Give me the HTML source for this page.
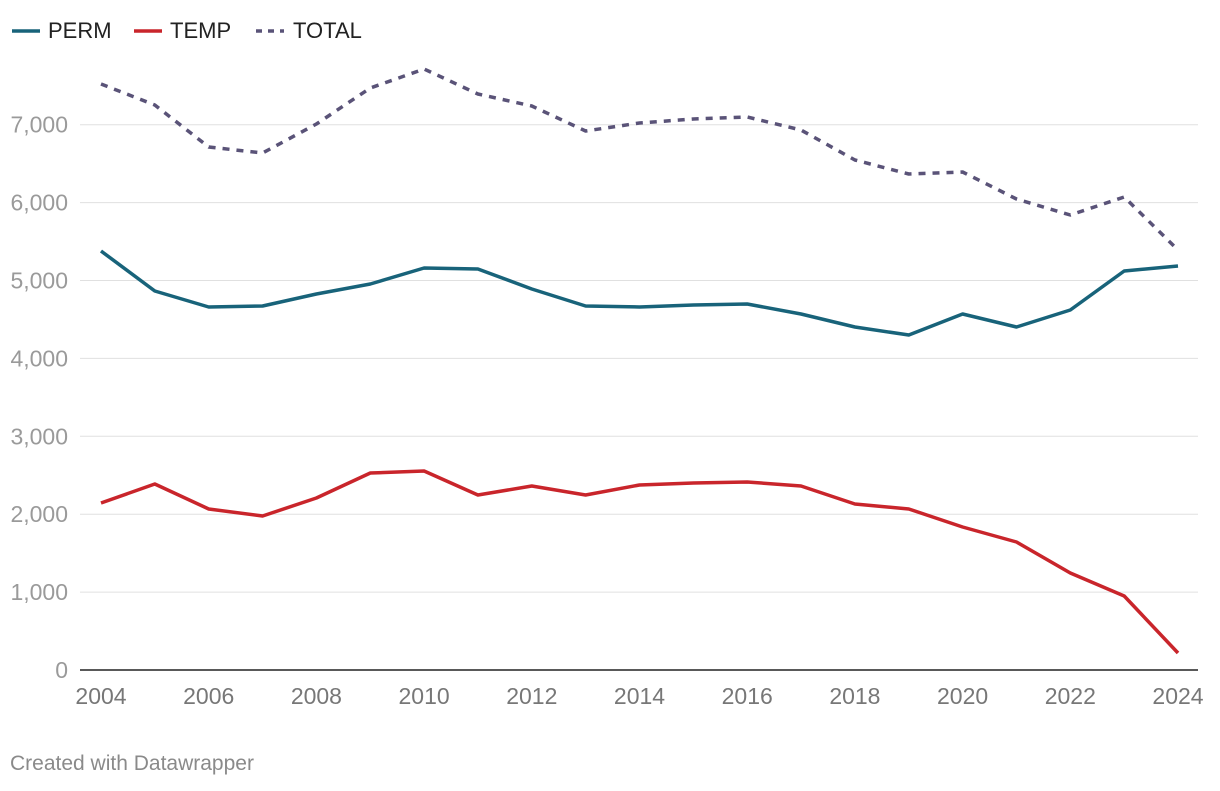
<!DOCTYPE html>
<html><head><meta charset="utf-8"><style>
body{margin:0;background:#fff;font-family:"Liberation Sans",sans-serif;}
svg text{font-family:"Liberation Sans",sans-serif;}
</style></head><body>
<svg id="chart" width="1220" height="786" xmlns="http://www.w3.org/2000/svg">
<g id="legend">
 <g><line x1="12" y1="31" x2="40" y2="31" stroke="#18637a" stroke-width="3.5"/><text x="48" y="38" font-size="22" fill="#222">PERM</text></g>
 <g><line x1="134" y1="31" x2="162" y2="31" stroke="#c9252b" stroke-width="3.5"/><text x="170" y="38" font-size="22" fill="#222">TEMP</text></g>
 <g><line x1="256" y1="31" x2="284" y2="31" stroke="#5a5378" stroke-width="3.5" stroke-dasharray="6,6"/><text x="293" y="38" font-size="22" fill="#222">TOTAL</text></g>
</g>
<g id="grid"></g><g id="lines"></g>
<text x="10" y="770" font-size="21" fill="#8a8a8a">Created with Datawrapper</text>
</svg>
<script>
const years=[2004,2005,2006,2007,2008,2009,2010,2011,2012,2013,2014,2015,2016,2017,2018,2019,2020,2021,2022,2023,2024];
const perm=[5379,4865,4660,4673,4827,4955,5160,5148,4891,4673,4660,4685,4698,4570,4403,4300,4570,4403,4621,5122,5186];
const temp=[2144,2388,2067,1977,2208,2529,2555,2246,2362,2246,2375,2400,2413,2362,2131,2067,1836,1643,1245,950,218];
const total=[7522,7253,6714,6637,7009,7471,7715,7394,7240,6919,7022,7073,7099,6932,6547,6367,6393,6046,5841,6072,5391];
const yTicks=[0,1000,2000,3000,4000,5000,6000,7000];
const xTicks=[2004,2006,2008,2010,2012,2014,2016,2018,2020,2022,2024];
const NS="http://www.w3.org/2000/svg";
const x=v=>101+(v-2004)*(1178-101)/20;
const y=v=>670-v*0.0779;
const grid=document.getElementById('grid'),lines=document.getElementById('lines');
function mk(t,a,p){const e=document.createElementNS(NS,t);for(const k in a)e.setAttribute(k,a[k]);p.appendChild(e);return e;}
yTicks.forEach(t=>{
 const l=mk('line',{x1:80,x2:1198,y1:y(t),y2:y(t),stroke:t===0?'#222':'#e0e0e0','stroke-width':t===0?1.5:1},grid);
 
 
 const tx=mk('text',{x:68,y:y(t)+8,'text-anchor':'end','font-size':23,fill:'#9a9a9a'},grid);
 tx.textContent=t.toLocaleString('en-US');
 
 
});
xTicks.forEach(t=>{
 const tx=mk('text',{x:x(t),y:704,'text-anchor':'middle','font-size':23,fill:'#777'},grid);
 tx.textContent=t;
 
 
});
function series(vals,color,dash,name){
 const d=vals.map((v,i)=>(i?'L':'M')+x(years[i]).toFixed(1)+','+y(v).toFixed(1)).join('');
 const p=mk('path',{d:d,fill:'none',stroke:color,'stroke-width':3.5,'stroke-linejoin':'round'},lines);
 if(dash)p.setAttribute('stroke-dasharray',dash);
 
 
}
series(total,'#5a5378','7,7','line-total');
series(perm,'#18637a',null,'line-perm');
series(temp,'#c9252b',null,'line-temp');
</script>
</body></html>
